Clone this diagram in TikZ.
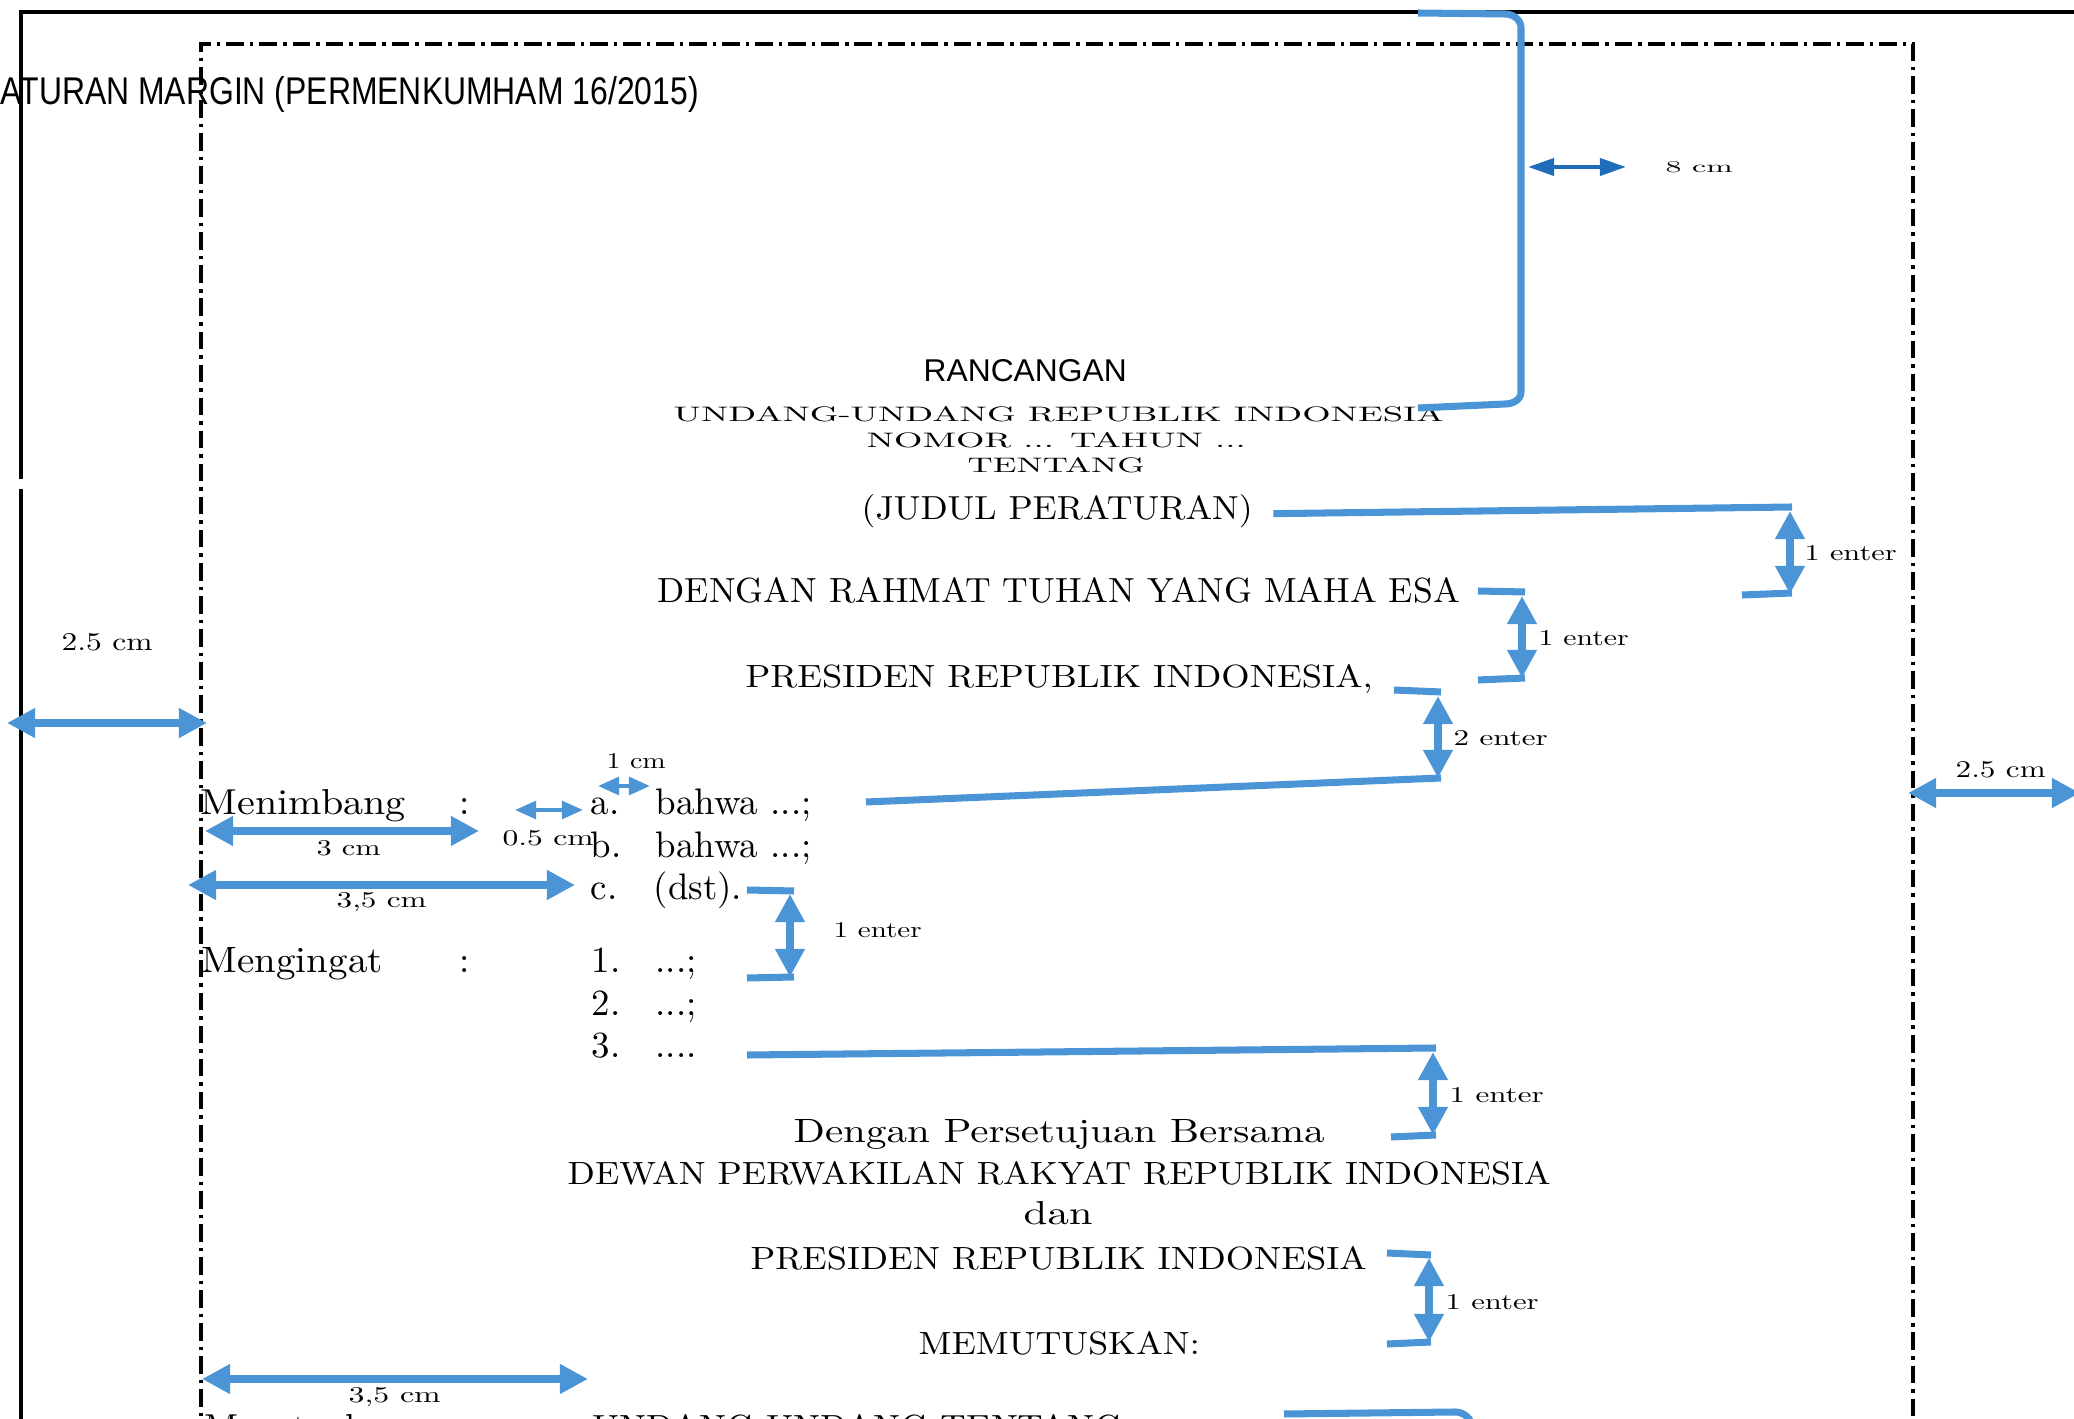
\documentclass[tikz,border=0pt]{standalone}
\usepackage{fontspec}
\usepackage{graphicx}
\usetikzlibrary{arrows.meta,positioning,calc}
\newfontfamily\arialfont{Liberation Sans}
\definecolor{docblue}{HTML}{4B95D6}
\definecolor{darkblue}{HTML}{1F6DB8}
\newlength\px
\setlength\px{0.01cm}
\newcommand\fitto[3]{\resizebox{#1\px}{#2\px}{#3}}
\tikzset{
  txt/.style={inner sep=0pt, anchor=base west},
  body/.style={txt, font=\fontsize{10.5}{12}\selectfont},
  lbl/.style={inner sep=0pt, anchor=west},
  bline/.style={draw=docblue, line width=2pt},
  dimarrow/.style={bline, <->, >={Triangle[length=8pt,width=8pt]}},
  smallarrow/.style={draw=docblue, line width=1.2pt, <->, >={Triangle[length=6pt,width=5pt]}},
  darkarrow/.style={draw=darkblue, line width=1.2pt, <->, >={Triangle[length=7.4pt,width=4.8pt]}},
  pageedge/.style={draw=black, line width=1.3pt},
  margin/.style={draw=black, line width=0.9pt, dash pattern=on 5pt off 1.7pt on 1pt off 1.7pt},
}

\begin{document}
\begin{tikzpicture}[x=0.01cm, y=-0.01cm]
  \useasboundingbox (0,0) rectangle (2074,1419);
  \clip (0,0) rectangle (2074,1419);
  % edge of the paper and the text area
  \draw[pageedge] (21,479) -- (21,12) -- (2080,12);
  \draw[pageedge] (21,489) -- (21,1430);
  \draw[margin] (201,1440) -- (201,44) -- (1913,44) -- (1913,1440);

  \node[txt, font=\arialfont] (aturan) at (0,105) {\fitto{698}{28}{ATURAN MARGIN (PERMENKUMHAM 16/2015)}};

  % heading block
  \node[txt, font=\arialfont] (rancangan) at (923,382) {\fitto{203}{22}{RANCANGAN}};
  \node[txt] (uu) at (673,422) {\fitto{770}{15}{UNDANG-UNDANG REPUBLIK INDONESIA}};
  \node[txt] (nomor) at (866,448) {\fitto{379}{15}{NOMOR ... TAHUN ...}};
  \node[txt] (tentang) at (967,473) {\fitto{177}{15}{TENTANG}};
  \node[txt] (judul) at (861,520) {\fitto{391}{25}{(JUDUL PERATURAN)}};
  \node[txt] (rahmat) at (657,603) {\fitto{802}{25}{DENGAN RAHMAT TUHAN YANG MAHA ESA}};
  \node[txt] (presiden) at (745,688) {\fitto{627}{23}{PRESIDEN REPUBLIK INDONESIA,}};

  % Menimbang and Mengingat
  \node[txt] (menimbang) at (200,815) {\fitto{205}{25}{Menimbang}};
  \node[body] (colA) at (459,815) {:};
  \node[body] (ia) at (590,815) {a.};
  \node[body] (ta) at (655,815) {bahwa ...;};
  \node[body] (ib) at (590,858) {b.};
  \node[body] (tb) at (655,858) {bahwa ...;};
  \node[body] (ic) at (590,900) {c.};
  \node[body] (tc) at (653,900) {(dst).};
  \node[txt] (mengingat) at (201,973) {\fitto{181}{25}{Mengingat}};
  \node[body] (colB) at (459,973) {:};
  \node[body] (i1) at (591,973) {1.};
  \node[body] (t1) at (655,973) {...;};
  \node[body] (i2) at (591,1016) {2.};
  \node[body] (t2) at (655,1016) {...;};
  \node[body] (i3) at (591,1058) {3.};
  \node[body] (t3) at (655,1058) {....};

  % Dengan Persetujuan Bersama ... MEMUTUSKAN
  \node[txt] (dps) at (793,1143) {\fitto{531}{23}{Dengan Persetujuan Bersama}};
  \node[txt] (dpr) at (567,1185) {\fitto{983}{23}{DEWAN PERWAKILAN RAKYAT REPUBLIK INDONESIA}};
  \node[txt] (dan) at (1023,1225) {\fitto{69}{23}{dan}};
  \node[txt] (presiden2) at (750,1270) {\fitto{616}{23}{PRESIDEN REPUBLIK INDONESIA}};
  \node[txt] (memutuskan) at (918,1355) {\fitto{281}{23}{MEMUTUSKAN:}};
  % cut by the lower edge
  \node[txt] (menetapkan) at (204,1440) {\fitto{200}{25}{Menetapkan}};
  \node[body] (colC) at (459,1440) {:};
  \node[txt] (uutentang) at (592,1440) {\fitto{530}{25}{UNDANG-UNDANG TENTANG}};

  % 8 cm from the top edge
  \draw[bline] (1418,13) -- (1505,14) to[out=0,in=90] (1521,28) -- (1521,392) to[out=-90,in=0] (1505,404) -- (1418,408);
  \draw[darkarrow] (1528,167) -- (1626,167);
  \node[lbl] (d8) at (1665,167) {\fitto{67}{11}{8 cm}};

  % line spacing brackets
  \draw[bline] ($(judul.east)+(20,2)$) -- (1792,507);
  \draw[dimarrow] (1790,511) -- (1790,594);
  \draw[bline] (1742,595) -- (1792,593);
  \node[lbl] (e1) at (1804,553) {\fitto{92}{15}{1 enter}};

  \draw[bline] (1478,591) -- (1525,592);
  \draw[dimarrow] (1522,596) -- (1522,678);
  \draw[bline] (1478,680) -- (1525,678);
  \node[lbl] (e2) at (1538,638) {\fitto{90}{15}{1 enter}};

  \draw[bline] (1394,690) -- (1441,692);
  \draw[dimarrow] (1438,696) -- (1438,778);
  \draw[bline] (866,802) -- (1441,778);
  \node[lbl] (e3) at (1453,738) {\fitto{94}{15}{2 enter}};

  \draw[bline] (747,890) -- (794,891);
  \draw[dimarrow] (790,894) -- (790,977);
  \draw[bline] (747,978) -- (794,977);
  \node[lbl] (e4) at (833,930) {\fitto{88}{15}{1 enter}};

  \draw[bline] (747,1055) -- (1436,1048);
  \draw[dimarrow] (1433,1052) -- (1433,1135);
  \draw[bline] (1391,1137) -- (1436,1135);
  \node[lbl] (e5) at (1449,1095) {\fitto{94}{15}{1 enter}};

  \draw[bline] (1387,1253) -- (1431,1255);
  \draw[dimarrow] (1429,1258) -- (1429,1342);
  \draw[bline] (1387,1344) -- (1431,1342);
  \node[lbl] (e6) at (1445,1302) {\fitto{93}{15}{1 enter}};

  \draw[bline] (1284,1414) -- (1455,1412) to[out=0,in=90] (1472,1428);

  % margins and indents
  \draw[dimarrow] (7,723) -- (207,723);
  \node[lbl] (ml) at (61,642) {\fitto{91}{17}{2.5 cm}};
  \draw[dimarrow] (1908,793) -- (2080,793);
  \node[lbl] (mr) at (1955,770) {\fitto{90}{16}{2.5 cm}};
  \draw[dimarrow] (205,831) -- (479,831);
  \node[lbl] (d3) at (316,848) {\fitto{64}{15}{3 cm}};
  \draw[dimarrow] (188,885) -- (575,885);
  \node[lbl] (d35) at (336,902) {\fitto{90}{15}{3,5 cm}};
  \draw[smallarrow] (515,810) -- (583,810);
  \node[lbl] (d05) at (502,838) {\fitto{91}{15}{0.5 cm}};
  \draw[smallarrow] (598,786) -- (650,786);
  \node[lbl] (d1) at (606,761) {\fitto{59}{15}{1 cm}};
  \draw[dimarrow] (202,1379) -- (588,1379);
  \node[lbl] (d35b) at (348,1397) {\fitto{92}{15}{3,5 cm}};
\end{tikzpicture}
\end{document}
